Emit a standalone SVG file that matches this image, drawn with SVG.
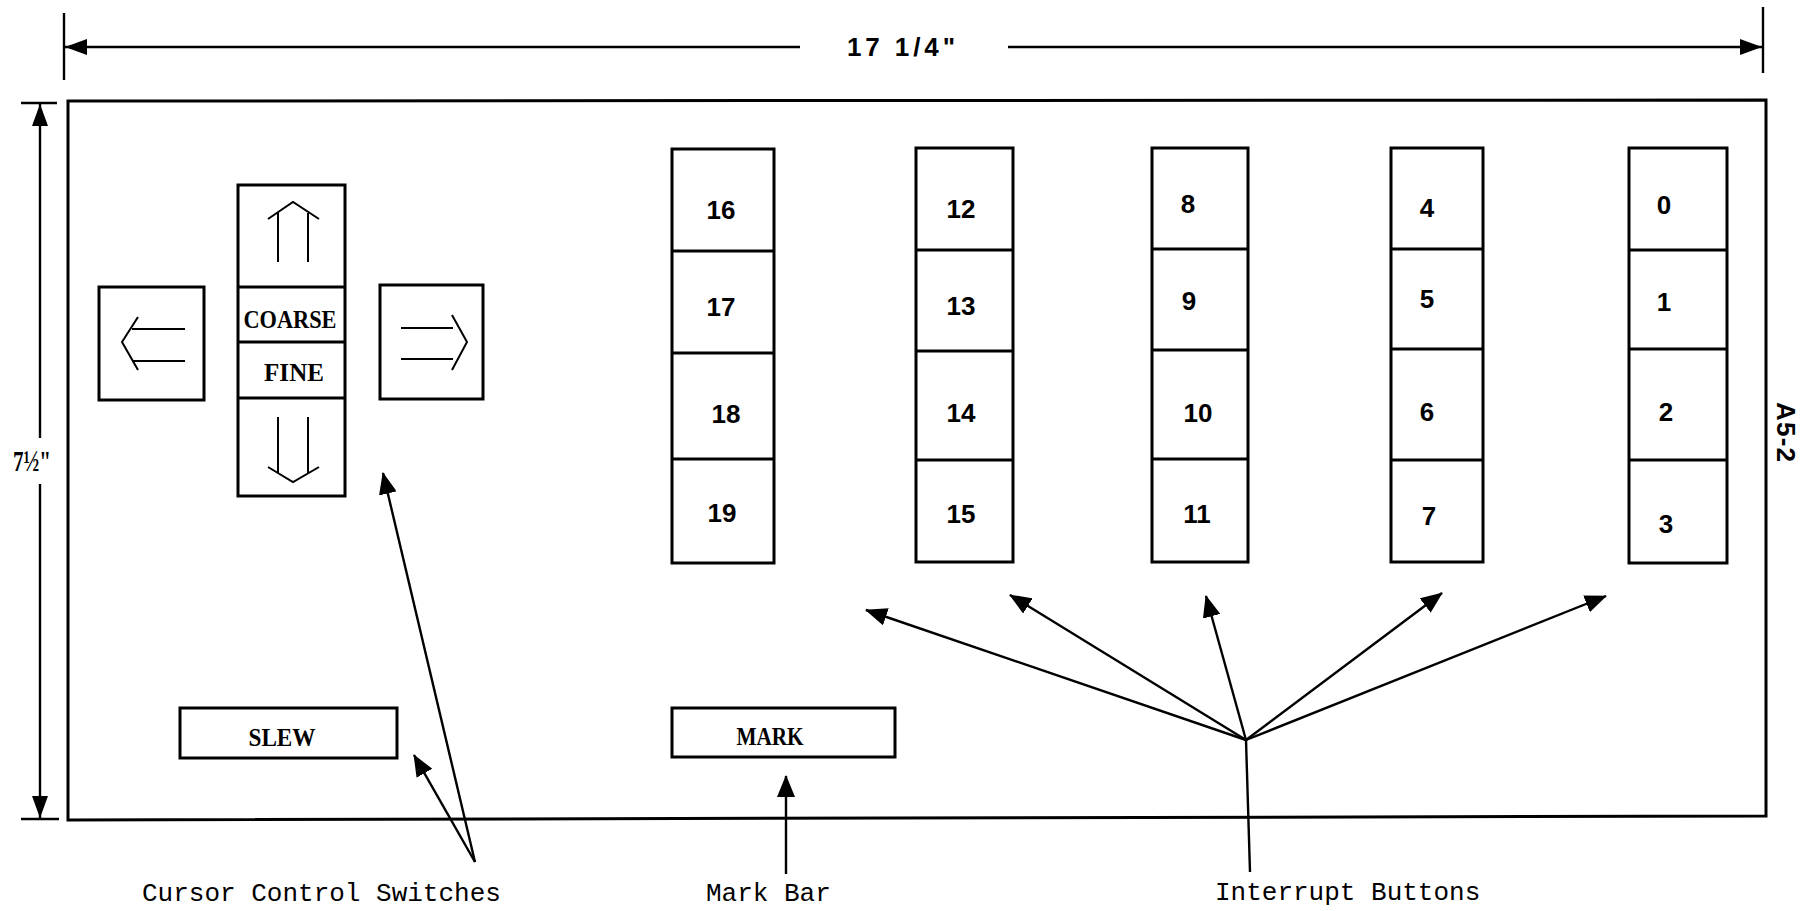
<svg xmlns="http://www.w3.org/2000/svg" width="1801" height="911" viewBox="0 0 1801 911">
<style>
.box{fill:none;stroke:#000;stroke-width:3}
.ln{fill:none;stroke:#000;stroke-width:2.4}
.sym{fill:none;stroke:#000;stroke-width:2}
.num{font-family:"Liberation Sans",Arial,sans-serif;font-weight:bold;font-size:26px;text-anchor:middle;fill:#000}
.key{font-family:"Liberation Serif","Times New Roman",serif;font-weight:bold;font-size:25px;text-anchor:middle;fill:#000}
.lbl{font-family:"Liberation Mono","Courier New",monospace;font-size:26px;fill:#000}
.dim{font-family:"Liberation Sans",Arial,sans-serif;font-weight:bold;font-size:26px;fill:#000}
</style>
<defs>
<marker id="ah" viewBox="0 0 22 18" refX="21" refY="9" markerWidth="22" markerHeight="18" markerUnits="userSpaceOnUse" orient="auto">
<path d="M0,0 L22,9 L0,18 z" fill="#000"/>
</marker>
<marker id="dh" viewBox="0 0 22 16" refX="22" refY="8" markerWidth="22" markerHeight="16" markerUnits="userSpaceOnUse" orient="auto">
<path d="M0,0 L22,8 L0,16 z" fill="#000"/>
</marker>
</defs>
<rect width="1801" height="911" fill="#fff"/>

<g id="dimensions">
<line class="ln" x1="64" y1="13" x2="64" y2="80"/>
<line class="ln" x1="1763" y1="7" x2="1763" y2="73"/>
<line class="ln" x1="800" y1="47" x2="65" y2="47" marker-end="url(#dh)"/>
<line class="ln" x1="1008" y1="47" x2="1762" y2="47" marker-end="url(#dh)"/>
<text class="dim" x="847" y="56" textLength="108" lengthAdjust="spacing">17 1/4"</text>
<line class="ln" x1="21" y1="103" x2="57" y2="103"/>
<line class="ln" x1="21" y1="819" x2="59" y2="819"/>
<line class="ln" x1="40" y1="438" x2="40" y2="104" marker-end="url(#dh)"/>
<line class="ln" x1="40" y1="484" x2="40" y2="818" marker-end="url(#dh)"/>
<text x="13" y="471" font-family="'Liberation Serif','Times New Roman',serif" font-weight="bold" font-size="29" textLength="38" lengthAdjust="spacingAndGlyphs">7½"</text>
</g>

<g id="panel">
<polygon class="box" points="68,101 1766,100 1766,816 68,820"/>
<text class="dim" x="1777" y="402" transform="rotate(90 1777 402)" font-size="24" textLength="60" lengthAdjust="spacing">A5-2</text>
</g>

<g id="cursor-left">
<rect class="box" x="99" y="287" width="105" height="113"/>
<path class="sym" d="M132,329 H185 M132,361 H185 M138,317 L122,342 L138,370"/>
</g>
<g id="cursor-right">
<rect class="box" x="380" y="285" width="103" height="114"/>
<path class="sym" d="M401,328 H453 M401,359 H453 M452,315 L467,342 L452,370"/>
</g>
<g id="cursor-column">
<rect class="box" x="238" y="185" width="107" height="311"/>
<line class="box" x1="238" y1="287" x2="345" y2="287"/>
<line class="box" x1="238" y1="342" x2="345" y2="342"/>
<line class="box" x1="238" y1="398" x2="345" y2="398"/>
<g id="cursor-up"><path class="sym" d="M278,262 V213 M308,262 V213 M268,219 L293,202 L319,219"/></g>
<g id="coarse"><text class="key" x="290" y="328" textLength="93" lengthAdjust="spacingAndGlyphs">COARSE</text></g>
<g id="fine"><text class="key" x="294" y="381" textLength="60" lengthAdjust="spacing">FINE</text></g>
<g id="cursor-down"><path class="sym" d="M278,417 V473 M308,417 V473 M268,467 L293,482 L319,467"/></g>
</g>

<g id="slew">
<rect class="box" x="180" y="708" width="217" height="50"/>
<text class="key" x="282" y="746" textLength="67" lengthAdjust="spacingAndGlyphs">SLEW</text>
</g>
<g id="mark">
<rect class="box" x="672" y="708" width="223" height="49"/>
<text class="key" x="770" y="745" textLength="67" lengthAdjust="spacingAndGlyphs">MARK</text>
</g>

<g id="buttons-16-19">
<rect class="box" x="672" y="149" width="102" height="414"/>
<line class="box" x1="672" y1="251" x2="774" y2="251"/>
<line class="box" x1="672" y1="353" x2="774" y2="353"/>
<line class="box" x1="672" y1="459" x2="774" y2="459"/>
<g id="btn-16"><text class="num" x="721" y="219">16</text></g>
<g id="btn-17"><text class="num" x="721" y="316">17</text></g>
<g id="btn-18"><text class="num" x="726" y="423">18</text></g>
<g id="btn-19"><text class="num" x="722" y="522">19</text></g>
</g>
<g id="buttons-12-15">
<rect class="box" x="916" y="148" width="97" height="414"/>
<line class="box" x1="916" y1="250" x2="1013" y2="250"/>
<line class="box" x1="916" y1="351" x2="1013" y2="351"/>
<line class="box" x1="916" y1="460" x2="1013" y2="460"/>
<g id="btn-12"><text class="num" x="961" y="218">12</text></g>
<g id="btn-13"><text class="num" x="961" y="315">13</text></g>
<g id="btn-14"><text class="num" x="961" y="422">14</text></g>
<g id="btn-15"><text class="num" x="961" y="523">15</text></g>
</g>
<g id="buttons-8-11">
<rect class="box" x="1152" y="148" width="96" height="414"/>
<line class="box" x1="1152" y1="249" x2="1248" y2="249"/>
<line class="box" x1="1152" y1="350" x2="1248" y2="350"/>
<line class="box" x1="1152" y1="459" x2="1248" y2="459"/>
<g id="btn-8"><text class="num" x="1188" y="213">8</text></g>
<g id="btn-9"><text class="num" x="1189" y="310">9</text></g>
<g id="btn-10"><text class="num" x="1198" y="422">10</text></g>
<g id="btn-11"><text class="num" x="1197" y="523">11</text></g>
</g>
<g id="buttons-4-7">
<rect class="box" x="1391" y="148" width="92" height="414"/>
<line class="box" x1="1391" y1="249" x2="1483" y2="249"/>
<line class="box" x1="1391" y1="349" x2="1483" y2="349"/>
<line class="box" x1="1391" y1="460" x2="1483" y2="460"/>
<g id="btn-4"><text class="num" x="1427" y="217">4</text></g>
<g id="btn-5"><text class="num" x="1427" y="308">5</text></g>
<g id="btn-6"><text class="num" x="1427" y="421">6</text></g>
<g id="btn-7"><text class="num" x="1429" y="525">7</text></g>
</g>
<g id="buttons-0-3">
<rect class="box" x="1629" y="148" width="98" height="415"/>
<line class="box" x1="1629" y1="250" x2="1727" y2="250"/>
<line class="box" x1="1629" y1="349" x2="1727" y2="349"/>
<line class="box" x1="1629" y1="460" x2="1727" y2="460"/>
<g id="btn-0"><text class="num" x="1664" y="214">0</text></g>
<g id="btn-1"><text class="num" x="1664" y="311">1</text></g>
<g id="btn-2"><text class="num" x="1666" y="421">2</text></g>
<g id="btn-3"><text class="num" x="1666" y="533">3</text></g>
</g>

<g id="connectors">
<line class="ln" x1="475" y1="862" x2="383" y2="473" marker-end="url(#ah)"/>
<line class="ln" x1="475" y1="862" x2="414" y2="755" marker-end="url(#ah)"/>
<line class="ln" x1="786" y1="874" x2="786" y2="776" marker-end="url(#ah)"/>
<line class="ln" x1="1250" y1="872" x2="1246" y2="740"/>
<line class="ln" x1="1246" y1="740" x2="866" y2="610" marker-end="url(#ah)"/>
<line class="ln" x1="1246" y1="740" x2="1010" y2="595" marker-end="url(#ah)"/>
<line class="ln" x1="1246" y1="740" x2="1206" y2="596" marker-end="url(#ah)"/>
<line class="ln" x1="1246" y1="740" x2="1442" y2="593" marker-end="url(#ah)"/>
<line class="ln" x1="1246" y1="740" x2="1606" y2="596" marker-end="url(#ah)"/>
</g>

<g id="labels">
<text class="lbl" x="142" y="901">Cursor Control Switches</text>
<text class="lbl" x="706" y="901">Mark Bar</text>
<text class="lbl" x="1215" y="900">Interrupt Buttons</text>
</g>
</svg>
